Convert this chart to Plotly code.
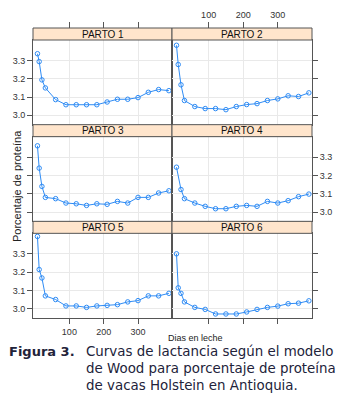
import plotly.graph_objects as go

# ---------------- data ----------------
days = [7, 12, 20, 30, 60, 90, 120, 150, 180, 210, 240, 270, 300, 330, 360, 390]
panel_titles = ["PARTO 1", "PARTO 2", "PARTO 3", "PARTO 4", "PARTO 5", "PARTO 6"]
parto1 = [3.337, 3.294, 3.194, 3.150, 3.086, 3.058, 3.058, 3.058, 3.058, 3.073, 3.088, 3.088, 3.097, 3.126, 3.141, 3.135]
parto2 = [3.383, 3.278, 3.167, 3.081, 3.048, 3.037, 3.037, 3.031, 3.048, 3.059, 3.064, 3.081, 3.090, 3.107, 3.103, 3.123]
parto3 = [3.362, 3.240, 3.140, 3.080, 3.073, 3.049, 3.045, 3.036, 3.045, 3.042, 3.058, 3.049, 3.080, 3.080, 3.104, 3.116]
parto4 = [3.245, None, 3.123, 3.073, 3.049, 3.031, 3.018, 3.018, 3.031, 3.036, 3.031, 3.058, 3.049, 3.062, 3.084, 3.098]
parto5 = [3.395, 3.214, 3.168, 3.070, 3.050, 3.015, 3.015, 3.007, 3.015, 3.018, 3.022, 3.037, 3.044, 3.070, 3.070, 3.084]
parto6 = [3.300, 3.114, 3.084, 3.037, 3.007, 2.996, 2.971, 2.971, 2.971, 2.982, 2.996, 3.007, 3.014, 3.027, 3.030, 3.043]
x_ticks = [100, 200, 300]
x_tick_text = ["100", "200", "300"]
y_ticks = [3.0, 3.1, 3.2, 3.3]
y_tick_text = ["3.0", "3.1", "3.2", "3.3"]
x_title = "Dias en leche"
y_title = "Porcentaje de proteína"
caption_head = "Figura 3."
caption_lines = ["Curvas de lactancia según el modelo",
                 "de Wood para porcentaje de proteína",
                 "de vacas Holstein en Antioquia."]

series = [parto1, parto2, parto3, parto4, parto5, parto6]

# ---------------- style / layout ----------------
W, H = 346, 401
L, R, T, B = 33, 312, 28, 318
STRIP_H = 12
COL_SPLIT = 172
ROW_H = (B - T) / 3
X_RANGE = [-6, 399]
Y_RANGE = [2.949, 3.412]
BLUE = "#2f8cf5"
GRID = "#e9e9e9"
FRAME = "#555555"
STRIP_FILL = "#FFE5CC"
TICKFONT = dict(family="Liberation Sans, Arial, sans-serif", size=9, color="#333333")
CAP_COLOR = "#22233a"


def px_x(px):
    return (px - L) / (R - L)


def px_y(py):
    return 1 - (py - T) / (B - T)


fig = go.Figure()
layout = dict(
    width=W, height=H,
    margin=dict(l=L, r=W - R, t=T, b=H - B, pad=0),
    paper_bgcolor="white", plot_bgcolor="white",
    template="none", showlegend=False,
)
shapes = []
annotations = []

for i, vals in enumerate(series):
    r, c = divmod(i, 2)
    n = i + 1
    xa = "x" if n == 1 else f"x{n}"
    ya = "y" if n == 1 else f"y{n}"
    fig.add_trace(go.Scatter(
        x=days, y=vals, mode="lines+markers", connectgaps=True,
        line=dict(color=BLUE, width=1),
        marker=dict(symbol="circle-open", size=4.5, color=BLUE, line=dict(width=1, color=BLUE)),
        xaxis=xa, yaxis=ya, hoverinfo="skip",
    ))
    top = T + r * ROW_H
    strip_bot = top + STRIP_H
    bot = top + ROW_H
    x0p, x1p = (L, COL_SPLIT) if c == 0 else (COL_SPLIT, R)
    xdom = [px_x(x0p), px_x(x1p)]
    ydom = [px_y(bot), px_y(strip_bot)]

    xax = dict(domain=xdom, anchor=ya, range=X_RANGE, tickmode="array",
               tickvals=x_ticks, ticktext=x_tick_text, showgrid=True,
               gridcolor=GRID, gridwidth=1, zeroline=False, showline=True,
               mirror=True, linecolor=FRAME, linewidth=1, tickfont=TICKFONT,
               tickcolor=FRAME, tickwidth=1, automargin=False, fixedrange=True)
    if r == 0:
        xax.update(side="top", ticks="outside", ticklen=STRIP_H + 5,
                   showticklabels=(c == 1))
    elif r == 2:
        xax.update(side="bottom", ticks="outside", ticklen=5,
                   showticklabels=(c == 0))
    else:
        xax.update(ticks="", showticklabels=False)

    yax = dict(domain=ydom, anchor=xa, range=Y_RANGE, tickmode="array",
               tickvals=y_ticks, ticktext=y_tick_text, showgrid=True,
               gridcolor=GRID, gridwidth=1, zeroline=False, showline=True,
               mirror=True, linecolor=FRAME, linewidth=1, tickfont=TICKFONT,
               tickcolor=FRAME, tickwidth=1, ticks="outside", ticklen=5,
               side="left" if c == 0 else "right", automargin=False,
               fixedrange=True)
    yax["showticklabels"] = (c == 0 and r in (0, 2)) or (c == 1 and r == 1)

    layout["xaxis" if n == 1 else f"xaxis{n}"] = xax
    layout["yaxis" if n == 1 else f"yaxis{n}"] = yax

    shapes.append(dict(type="rect", xref="paper", yref="paper",
                       x0=px_x(x0p), x1=px_x(x1p), y0=px_y(strip_bot), y1=px_y(top),
                       fillcolor=STRIP_FILL, line=dict(color=FRAME, width=1),
                       layer="above"))
    annotations.append(dict(text=panel_titles[i], xref="paper", yref="paper",
                            x=px_x((x0p + x1p) / 2), y=px_y(top + STRIP_H / 2),
                            xanchor="center", yanchor="middle", showarrow=False,
                            font=dict(family="Liberation Sans, Arial, sans-serif",
                                      size=10, color="#111111")))

annotations.append(dict(text=x_title, xref="paper", yref="paper",
                        x=px_x(195), y=px_y(337.5), xanchor="center", yanchor="middle",
                        showarrow=False,
                        font=dict(family="Liberation Sans, Arial, sans-serif", size=9, color="#222222")))
annotations.append(dict(text=y_title, xref="paper", yref="paper", textangle=-90,
                        x=px_x(17), y=px_y(186), xanchor="center", yanchor="middle",
                        showarrow=False,
                        font=dict(family="Liberation Sans, Arial, sans-serif", size=11, color="#222222")))
annotations.append(dict(text="<b>" + caption_head + "</b>", xref="paper", yref="paper",
                        x=px_x(7), y=px_y(351.7), xanchor="left", yanchor="middle",
                        showarrow=False,
                        font=dict(family="DejaVu Sans, Verdana, sans-serif", size=13, color=CAP_COLOR)))
for k, line in enumerate(caption_lines):
    annotations.append(dict(text=line, xref="paper", yref="paper",
                            x=px_x(84), y=px_y(351.7 + 17 * k), xanchor="left", yanchor="middle",
                            showarrow=False,
                            font=dict(family="DejaVu Sans, Verdana, sans-serif", size=13.4, color=CAP_COLOR)))

layout["shapes"] = shapes
layout["annotations"] = annotations
fig.update_layout(**layout)
fig.write_html("out.html",
               config={"displayModeBar": False, "staticPlot": True},
               post_script="document.body.style.margin='0';document.body.style.padding='0';")
